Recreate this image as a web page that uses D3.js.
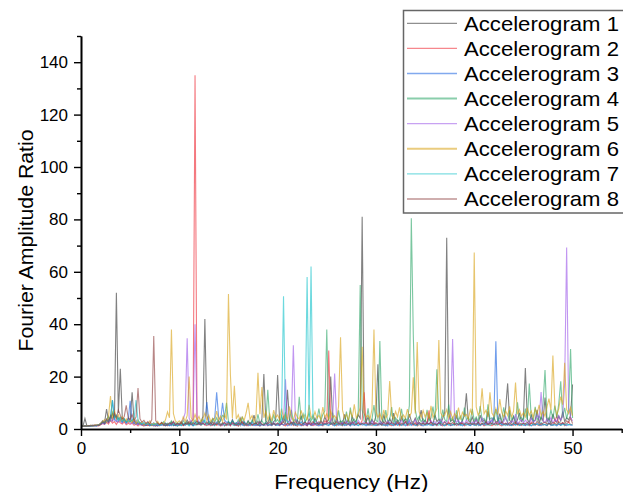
<!DOCTYPE html>
<html><head><meta charset="utf-8">
<script src="https://cdn.jsdelivr.net/npm/d3@7"></script>
<style>
body{margin:0;background:#fff}
svg{display:block}
text{font-family:"Liberation Sans",Arial,sans-serif;fill:#000}
</style>
</head><body>
<svg id="chart" width="623" height="492"></svg>
<script>
// ---------- data (Fourier amplitude ratio sampled every 0.2 Hz, 0 .. 50 Hz) ----------
const seriesNames = ["Accelerogram 1","Accelerogram 2","Accelerogram 3","Accelerogram 4",
                     "Accelerogram 5","Accelerogram 6","Accelerogram 7","Accelerogram 8"];
const seriesColors = ["#333333","#ee2530","#1a62e0","#2aa566","#9b55e8","#d9a214","#14c2ca","#8c3c3c"];
const freqStepHz = 0.2;
const xTicks = [0,10,20,30,40,50];
const xMinorTicks = [5,15,25,35,45,55];
const yTicks = [0,20,40,60,80,100,120,140];
const yMinorTicks = [10,30,50,70,90,110,130,150];

const acc1 = [
1.0,1.1,4,1.2,1.1,1.3,1.2,1.4,1.3,1.6,2.2,3.1,2.5,7.6,3.2,4.5,5.8,3.9,52,6.1,23,4.2,3.5,2.8,4.1,
3.1,14,3.0,2.4,1.9,2.2,1.5,1.8,1.3,1.6,1.2,1.9,1.4,1.1,1.7,1.3,2.4,1.5,1.2,1.9,1.4,2.6,1.3,1.8,1.1,
1.6,2.9,1.4,2.1,3.4,1.8,2.5,1.3,2.2,3.1,1.7,2.6,4.8,42,5.2,2.3,1.6,2.8,1.4,2.1,3.3,1.5,2.4,1.2,1.9,
2.7,1.4,3.6,1.8,2.2,1.3,4.1,1.7,2.5,1.4,3.2,1.9,2.6,5.3,1.8,2.9,1.6,3.8,21,3.1,2.2,4.4,1.7,2.8,3.5,
20.6,3.2,2.1,4.6,2.4,15,3.7,1.9,2.8,1.6,3.4,2.2,5.1,1.8,2.7,1.5,3.9,2.3,1.7,4.2,2.5,1.6,3.3,2.1,4.7,
2.6,3.8,20,2.9,1.8,4.3,2.2,3.1,1.7,5.6,2.4,3.5,1.9,4.8,2.6,3.2,5.4,4.1,81,6.2,2.7,4.5,1.8,3.6,2.3,
4.9,24.7,3.3,2.1,5.2,2.8,1.7,3.9,2.4,6.1,2.2,3.4,1.9,4.6,2.7,3.8,2.1,5.7,3.1,2.4,4.2,1.8,3.6,7.2,2.5,
3.4,2.1,4.8,2.6,1.9,5.5,2.8,3.7,2.2,4.1,6.4,73,5.8,2.9,3.6,2.1,4.9,2.7,1.8,3.3,5.1,13.6,3.2,2.4,4.6,
2.3,3.9,1.7,5.3,2.8,3.5,2.1,6.7,2.9,1.8,4.4,2.6,3.1,5.9,2.2,3.7,8.1,17.4,3.3,2.5,4.8,2.1,3.6,6.2,2.9,
4.1,23.3,3.8,2.4,5.6,2.9,3.4,7.3,2.2,4.5,3.1,12,2.7,4.2,2.1,5.8,3.3,2.6,4.9,3.1,6.6,2.8,4.3,3.5,5.2,
17];
const acc2 = [
1.0,1.2,1.1,1.3,1.2,1.4,1.1,1.5,1.3,1.2,1.6,2.1,1.8,2.6,1.9,3.4,2.2,2.8,1.7,3.1,2.4,1.9,2.7,1.6,2.2,
1.8,2.5,1.4,1.9,1.2,2.3,1.5,1.1,1.7,1.3,2.0,1.4,1.2,1.8,1.1,1.6,2.2,1.3,1.5,1.2,1.9,1.4,2.6,1.3,1.7,
1.5,2.1,1.3,1.8,2.4,1.6,2.9,3.5,135,3.2,1.9,1.4,2.2,1.6,1.3,1.9,1.2,1.7,2.5,1.4,1.8,1.1,1.6,2.3,1.3,
1.7,1.2,2.1,1.4,1.6,1.1,1.9,2.6,1.3,1.5,1.2,1.8,1.4,2.2,1.3,1.7,1.1,1.9,1.5,2.4,1.2,1.6,1.3,2.0,1.4,
1.8,1.3,2.2,1.5,1.2,1.9,1.4,2.6,1.3,1.7,1.1,2.1,1.5,1.3,1.8,1.2,2.4,1.6,1.3,1.9,1.4,2.8,1.5,1.2,3.1,
2.2,30,2.6,1.5,1.9,1.3,2.3,1.6,1.2,2.7,1.4,1.8,1.3,2.1,1.5,1.9,2.4,1.7,3.2,14,2.1,1.5,1.8,1.3,2.5,
1.6,1.3,2.2,1.4,1.8,1.2,2.6,1.5,1.3,1.9,1.4,2.3,1.2,1.7,1.5,2.8,1.3,1.6,1.9,1.4,2.5,1.2,1.7,1.3,2.1,
1.5,2.3,7.1,1.8,1.4,1.9,1.3,2.4,1.5,1.2,1.8,1.4,2.7,1.3,1.6,2.1,1.3,1.8,1.5,2.4,1.2,1.6,1.9,1.4,2.2,
1.7,1.3,2.5,1.4,1.9,1.2,1.6,2.2,1.5,1.3,1.8,1.4,2.9,1.5,1.2,1.9,1.6,2.4,1.3,1.7,1.4,2.1,1.5,1.8,1.3,
2.2,1.5,1.8,1.3,2.6,1.4,1.9,1.6,1.3,2.3,1.5,1.8,1.2,2.1,1.6,1.4,2.7,5.2,1.8,1.5,2.4,1.3,1.9,2.8,1.6,
1.8];
const acc3 = [
1.0,1.1,1.2,1.1,1.3,1.2,1.4,1.3,1.2,1.5,1.8,2.4,1.9,3.2,2.6,4.1,11,3.5,2.8,4.4,3.1,2.5,3.8,2.2,3.3,
10.8,2.9,2.1,3.4,1.8,2.5,1.6,2.2,1.4,1.9,1.3,1.7,2.4,1.5,1.2,1.8,1.4,2.1,1.3,1.6,1.2,1.9,1.5,1.3,2.2,
1.6,1.3,1.9,1.4,2.3,1.5,1.8,1.3,2.6,1.7,2.1,1.6,2.8,3.3,10.3,3.1,2.4,3.6,4.2,14,4.5,3.2,10,3.4,2.5,
2.8,2.1,3.2,1.9,2.5,1.7,2.2,1.5,2.9,1.8,1.4,2.3,1.6,1.3,2.0,1.5,1.2,1.8,1.4,2.4,1.3,1.7,1.5,2.1,1.4,
1.6,1.3,1.9,1.5,2.2,1.2,1.7,1.4,2.5,1.3,1.8,1.5,1.2,2.1,1.6,1.4,1.9,1.3,1.7,2.3,1.5,1.2,1.8,1.4,2.0,
1.5,1.3,2.4,1.6,1.2,1.9,1.4,1.7,2.2,1.3,1.5,1.8,1.2,2.6,1.4,1.6,1.3,2.1,1.5,1.8,1.2,1.9,1.4,2.3,1.6,
1.3,1.8,1.5,2.2,1.4,1.7,1.2,2.5,1.6,1.3,1.9,1.4,2.1,1.5,1.8,1.2,1.6,3.4,1.4,1.9,1.3,1.7,2.4,1.5,1.2,
1.8,1.4,2.2,1.6,1.3,1.9,1.5,2.7,1.4,1.7,1.2,2.0,1.6,1.3,1.8,1.5,2.3,1.4,1.9,1.2,1.6,2.1,1.5,1.3,1.8,
1.4,2.2,1.6,1.3,1.9,1.5,2.4,1.7,2.8,3.1,4.6,33.5,3.8,2.2,1.8,1.5,2.1,1.4,1.7,1.3,1.9,1.5,2.3,1.4,1.7,
1.5,1.3,2.0,1.6,1.2,1.8,1.4,2.2,1.5,1.3,1.9,1.6,1.4,2.5,1.3,1.7,1.5,1.2,1.9,1.4,2.1,1.6,1.3,1.8,1.5,
1.4];
const acc4 = [
1.0,1.2,1.1,1.3,1.2,1.4,1.3,1.2,1.5,1.4,1.9,2.6,2.1,3.5,4.8,3.2,6.4,4.1,5.2,3.6,4.5,2.8,3.9,2.4,3.1,
2.7,3.4,2.2,1.9,2.8,1.6,2.1,1.4,1.8,2.5,1.5,1.3,1.9,1.6,2.3,1.4,1.7,2.8,1.5,2.2,1.9,3.1,1.6,2.4,1.8,
2.3,1.7,3.2,2.1,2.6,1.8,2.9,2.2,3.4,1.9,2.5,2.1,3.7,2.4,1.8,2.7,2.2,3.9,2.6,4.3,2.4,3.1,5.2,4.6,10,
2.8,1.9,3.1,2.2,1.6,3.5,1.4,4.7,2.1,1.7,2.9,1.5,3.4,2.3,1.8,5.6,2.1,3.2,1.9,2.6,15,3.1,2.4,5.3,2.7,
3.6,2.2,5.1,2.8,6.4,2.5,3.2,7.3,2.9,3.8,2.6,12.3,3.4,5.7,2.8,3.9,6.2,3.1,5.3,2.7,3.6,7.8,3.2,5.5,6.9,
38,3.4,2.1,6.3,2.8,1.9,7.1,2.5,3.2,1.8,6.6,2.3,8.2,2.9,3.7,2.2,6.8,55,7.4,3.1,2.6,7.9,2.3,3.8,9.1,
3.3,2.7,33.6,3.9,2.4,7.2,2.8,3.6,8.4,2.1,4.3,2.9,3.5,7.7,2.6,4.1,3.2,8.9,80.4,36,7.5,3.4,4.8,2.7,3.9,
2.5,7.3,3.1,4.2,8.6,3.4,22.8,4.1,2.9,7.4,3.6,2.8,9.3,3.2,4.5,2.4,7.1,3.3,4.9,2.6,8.2,3.5,4.4,2.9,7.7,
3.2,4.6,2.8,8.8,3.5,4.1,2.7,9.4,3.8,4.3,3.1,7.6,2.9,4.2,3.4,8.3,3.9,2.6,7.2,3.3,4.8,2.9,10.2,3.6,4.4,
3.1,7.8,3.6,17.4,4.2,2.8,8.5,3.3,4.9,3.7,9.6,22.5,4.3,3.2,7.4,3.8,8.9,4.1,9.8,18.2,4.4,8.1,3.9,7.3,30.5,
4.2];
const acc5 = [
1.0,1.1,1.2,1.1,1.3,1.2,1.4,1.2,1.3,1.5,1.7,2.2,1.9,2.8,2.4,3.6,2.9,4.2,3.1,2.6,3.8,2.3,3.2,2.1,2.7,
2.4,1.9,2.8,1.6,2.2,1.5,1.9,1.3,1.7,2.4,1.4,1.8,1.2,1.6,2.1,1.3,1.7,1.4,2.3,1.5,1.9,1.3,2.6,1.6,1.4,
1.8,2.5,3.6,6.2,34.6,4.1,2.7,3.9,40,4.4,2.6,1.9,2.8,1.6,2.3,1.5,2.1,1.4,1.9,2.6,1.5,1.8,1.3,2.2,1.6,
1.9,1.4,2.3,1.6,1.3,2.7,1.5,1.8,1.2,2.1,1.6,1.4,2.4,1.7,1.3,1.9,2.8,1.5,1.8,1.3,2.2,1.6,1.4,2.5,1.7,
2.1,1.6,2.8,3.4,19,3.2,2.4,3.9,32,4.6,2.3,1.8,2.7,1.5,2.2,1.7,2.9,1.6,2.1,1.4,2.6,1.8,1.5,2.3,1.7,
2.4,1.9,3.1,4.2,21.2,3.6,2.2,1.7,2.5,1.6,2.9,1.8,2.3,1.5,2.7,1.9,3.3,2.1,1.8,2.6,1.6,2.4,1.9,3.2,1.7,
2.2,1.6,2.9,1.8,2.4,1.5,3.1,1.9,2.3,1.6,2.7,1.8,2.1,3.4,1.7,2.5,1.9,2.8,1.6,2.2,3.6,1.8,2.4,1.7,2.9,
1.9,2.6,1.7,3.2,2.1,2.8,1.8,2.4,3.7,2.2,2.9,1.9,3.5,4.8,34.3,4.1,2.6,3.3,2.1,2.8,1.9,3.4,2.3,1.8,2.7,
2.1,3.6,1.9,2.5,4.2,2.3,1.8,2.9,2.2,3.8,1.9,2.6,2.1,3.3,1.7,2.8,4.6,2.2,1.9,3.1,2.4,5.7,2.1,2.8,3.5,
2.2,3.4,2.6,1.9,4.1,2.5,3.2,5.4,3.8,14.1,3.1,2.4,3.9,2.7,4.4,2.3,3.6,2.9,5.1,3.4,4.7,17.7,69.3,8.2,4.6,
3.1];
const acc6 = [
1.0,1.2,1.1,1.3,1.2,1.4,1.3,1.5,1.4,1.6,2.1,2.8,3.6,2.4,4.9,12.6,4.2,7.1,3.8,5.4,3.1,4.6,2.7,3.9,2.5,
3.2,2.4,4.1,2.1,3.5,1.9,2.7,1.6,2.3,1.8,3.1,1.5,2.2,1.7,2.9,1.6,2.4,1.8,3.6,6.5,4.3,38,5.9,3.1,2.4,
3.1,2.2,4.6,2.8,5.2,20,4.4,2.9,5.6,3.3,4.8,2.6,3.9,6.1,3.4,5.3,2.7,4.1,3.2,6.8,3.5,4.9,2.8,5.7,3.6,
51.5,20.6,4.2,16.5,3.8,5.4,2.9,4.6,3.3,6.2,10,3.7,5.1,2.8,4.9,21.5,5.6,16,4.3,6.7,3.5,5.8,3.1,7.2,4.4,
5.3,3.6,7.8,4.1,5.9,3.4,8.6,4.7,3.2,6.4,4.5,3.8,7.1,4.2,5.6,3.3,9.2,4.8,3.9,6.6,4.1,5.2,3.5,8.4,4.6,
5.8,3.7,6.9,4.3,5.1,3.6,8.7,35,7.2,4.1,5.6,3.4,6.8,4.5,9.4,4.2,5.7,8.1,31.4,6.3,4.6,5.2,3.8,7.6,38,
6.8,4.4,5.9,3.7,7.3,4.2,5.5,18.3,5.1,3.9,6.7,4.6,8.3,3.8,5.4,4.1,7.6,4.7,6.2,19.7,5.9,33.2,6.5,4.3,7.1,
4.6,6.3,3.9,8.8,4.4,5.7,7.9,34,6.1,4.8,5.3,7.4,4.1,6.6,3.8,5.9,4.5,8.2,3.6,6.4,4.9,5.6,3.8,7.3,5.2,
67.4,8.4,5.3,6.7,15.5,5.8,7.2,4.6,14,6.1,4.8,7.9,5.4,11.4,6.3,4.7,6.9,5.2,8.6,4.4,6.8,17.7,5.6,7.4,4.9,
6.2,4.6,8.1,5.3,6.9,4.4,7.6,5.8,9.2,5.1,6.7,4.8,8.4,11.6,7.2,28,8.6,5.5,7.8,12.4,9.3,25.3,7.4,5.9,8.2,
5.1];
const acc7 = [
1.0,1.1,1.2,1.1,1.2,1.3,1.2,1.4,1.3,1.5,1.9,2.6,2.2,3.4,2.8,4.6,11,3.9,5.2,3.1,4.3,2.7,3.6,2.4,3.2,
2.8,3.5,4.1,11,3.3,2.4,1.9,2.6,1.7,2.2,1.5,1.9,1.4,2.1,1.6,1.3,1.8,1.5,2.3,1.4,1.7,1.3,2.0,1.5,1.2,
1.6,1.3,2.1,1.5,1.8,1.2,2.4,1.6,1.4,1.9,2.7,1.5,1.8,3.2,1.6,2.2,1.4,1.9,1.3,2.5,1.7,1.4,2.1,1.5,1.8,
1.4,2.2,1.6,1.3,1.9,1.5,2.4,1.7,1.3,2.0,1.6,1.4,2.6,1.5,1.8,1.3,2.1,1.6,1.4,2.3,1.5,1.9,1.3,2.2,1.7,
1.5,2.4,3.6,50.7,4.2,2.6,1.8,2.3,1.6,2.1,1.4,1.9,2.7,1.6,3.1,58,4.4,62,3.8,2.2,1.7,2.5,1.4,1.9,1.6,
2.1,1.5,1.8,2.4,1.3,1.7,2.2,1.5,1.4,1.9,1.6,2.3,1.4,1.8,1.5,2.6,1.3,1.7,2.1,1.5,1.9,1.4,2.2,1.6,1.3,
1.8,1.5,2.3,1.4,1.7,1.3,2.1,1.6,1.9,1.4,2.5,1.5,1.8,1.3,2.0,1.6,2.4,1.4,1.7,2.2,1.5,1.3,1.9,1.6,2.1,
1.4,2.0,1.6,1.3,2.3,1.5,1.8,1.4,2.6,1.7,1.3,1.9,1.5,2.2,1.4,1.8,1.6,2.4,1.3,1.7,2.0,1.5,1.9,1.4,2.2,
1.6,1.3,2.1,1.5,1.8,2.5,1.4,1.7,1.3,2.2,1.6,1.9,1.4,2.4,1.5,1.8,1.3,2.0,1.6,1.4,2.3,1.5,1.8,1.3,1.9,
1.5,2.2,1.4,1.7,1.3,2.0,1.6,1.9,1.4,2.5,1.5,1.8,1.3,2.1,1.6,1.4,1.9,1.5,2.3,1.4,1.7,1.6,2.0,1.5,1.8,
1.5];
const acc8 = [
1.0,1.1,1.2,1.1,1.3,1.2,1.4,1.3,1.5,1.4,1.8,2.7,2.1,3.8,2.6,5.1,3.4,6.2,4.1,7.3,5.2,3.6,4.8,9,4.3,
3.7,5.5,3.1,4.6,15.6,3.9,2.6,3.3,2.1,2.8,1.9,3.6,35.5,3.2,2.2,1.7,2.5,1.6,2.1,1.5,2.4,1.8,2.9,1.6,2.2,
1.7,2.5,1.5,2.1,1.8,2.9,1.6,2.3,1.9,1.5,2.6,1.8,2.2,1.6,2.8,1.7,2.4,1.5,2.0,1.7,2.3,1.5,1.9,2.6,1.6,
2.1,1.6,2.5,1.8,1.5,2.2,1.7,2.9,1.6,2.0,1.8,2.4,1.5,1.9,2.3,1.6,2.7,1.8,1.5,2.1,1.9,2.6,1.6,2.2,1.7,
2.3,1.7,2.0,2.8,1.6,2.2,1.9,2.5,1.7,3.1,1.8,2.4,1.6,2.1,2.7,1.8,2.3,1.6,2.9,1.9,2.2,1.7,2.6,1.8,2.1,
1.9,2.6,1.7,2.3,2.0,2.8,1.8,2.2,1.6,2.5,1.9,2.1,1.7,2.7,2.0,1.8,2.4,1.6,2.2,1.9,2.6,1.7,2.3,2.0,1.8,
2.4,1.8,2.1,1.6,2.7,1.9,2.3,1.7,2.5,2.0,1.8,2.6,1.6,2.2,1.9,2.8,1.7,2.1,2.4,1.8,2.0,1.6,2.5,1.9,2.2,
1.7,2.3,1.9,2.6,1.8,2.1,1.6,2.4,2.0,1.8,2.7,1.7,2.2,1.9,2.5,1.6,2.1,1.8,2.3,2.0,1.7,2.6,1.9,2.2,1.8,
2.1,1.8,2.5,1.7,2.2,1.9,2.8,1.6,2.3,2.0,1.8,2.4,1.7,2.1,2.6,1.9,2.2,1.6,2.5,1.8,2.0,2.7,1.7,2.3,1.9,
2.2,1.9,2.6,1.7,2.1,2.4,1.8,2.9,2.0,1.7,2.3,2.6,1.9,2.2,1.8,2.5,2.1,1.7,2.8,2.0,2.4,1.9,3.1,2.6,4.2,
2.1];

const seriesValues = [acc1,acc2,acc3,acc4,acc5,acc6,acc7,acc8];

// ---------- layout ----------
const W = 623, H = 492;
const M = {left: 81, right: 1.3, top: 36, bottom: 63};
const svg = d3.select("#chart");

const x = d3.scaleLinear().domain([0,55]).range([M.left, W - M.right]);
const y = d3.scaleLinear().domain([0,150]).range([H - M.bottom, M.top]);

// ---------- series lines ----------
const line = d3.line()
  .x((d,i) => x(i * freqStepHz))
  .y(d => y(d));

const gLines = svg.append("g");
seriesValues.forEach((vals, k) => {
  gLines.append("path")
    .attr("d", line(vals))
    .attr("fill", "none")
    .attr("stroke", seriesColors[k])
    .attr("stroke-opacity", 0.62)
    .attr("stroke-width", 1.1)
    .attr("stroke-linejoin", "miter");
});

// ---------- axes ----------
const tickFont = "17px";
const xAxisMajor = d3.axisBottom(x).tickValues(xTicks).tickSize(7).tickPadding(6).tickSizeOuter(0);
const xAxisMinor = d3.axisBottom(x).tickValues(xMinorTicks).tickSize(4).tickFormat("").tickSizeOuter(0);
const yAxisMajor = d3.axisLeft(y).tickValues(yTicks).tickSize(7).tickPadding(6).tickSizeOuter(0);
const yAxisMinor = d3.axisLeft(y).tickValues(yMinorTicks).tickSize(4).tickFormat("").tickSizeOuter(0);

function styleAxis(g){
  g.selectAll("path.domain").attr("stroke","#000").attr("stroke-width",1.6);
  g.selectAll(".tick line").attr("stroke","#000").attr("stroke-width",1.4);
  g.selectAll(".tick text").attr("font-size",tickFont).attr("fill","#000")
    .attr("font-family","'Liberation Sans',Arial,sans-serif");
}
svg.append("g").attr("transform",`translate(0,${y(0)})`).call(xAxisMinor).call(styleAxis);
svg.append("g").attr("transform",`translate(0,${y(0)})`).call(xAxisMajor).call(styleAxis);
svg.append("g").attr("transform",`translate(${x(0)},0)`).call(yAxisMinor).call(styleAxis);
svg.append("g").attr("transform",`translate(${x(0)},0)`).call(yAxisMajor).call(styleAxis);

// axis titles
svg.append("text")
  .attr("x", (x(0) + x(55)) / 2).attr("y", 489)
  .attr("text-anchor","middle").attr("font-size","21px")
  .attr("textLength", 154).attr("lengthAdjust","spacingAndGlyphs")
  .text("Frequency (Hz)");
svg.append("text")
  .attr("transform", `translate(33,${(y(0)+y(150))/2 + 8}) rotate(-90)`)
  .attr("text-anchor","middle").attr("font-size","21px")
  .attr("textLength", 222).attr("lengthAdjust","spacingAndGlyphs")
  .text("Fourier Amplitude Ratio");

// ---------- legend ----------
const lg = svg.append("g");
lg.append("rect")
  .attr("x", 403.5).attr("y", 10.5).attr("width", 230).attr("height", 202.5)
  .attr("fill","#fff").attr("stroke","#666").attr("stroke-width",1.5);
seriesNames.forEach((name, k) => {
  const cy = 23.3 + k * 25.1;
  lg.append("line")
    .attr("x1", 407).attr("x2", 457).attr("y1", cy).attr("y2", cy)
    .attr("stroke", seriesColors[k]).attr("stroke-opacity", 0.55)
    .attr("stroke-width", (k === 3 || k === 5) ? 2 : 1.3);
  lg.append("text")
    .attr("x", 464).attr("y", cy + 7.4)
    .attr("font-size","21px")
    .attr("textLength", 155).attr("lengthAdjust","spacingAndGlyphs")
    .text(name);
});
</script>
</body></html>
